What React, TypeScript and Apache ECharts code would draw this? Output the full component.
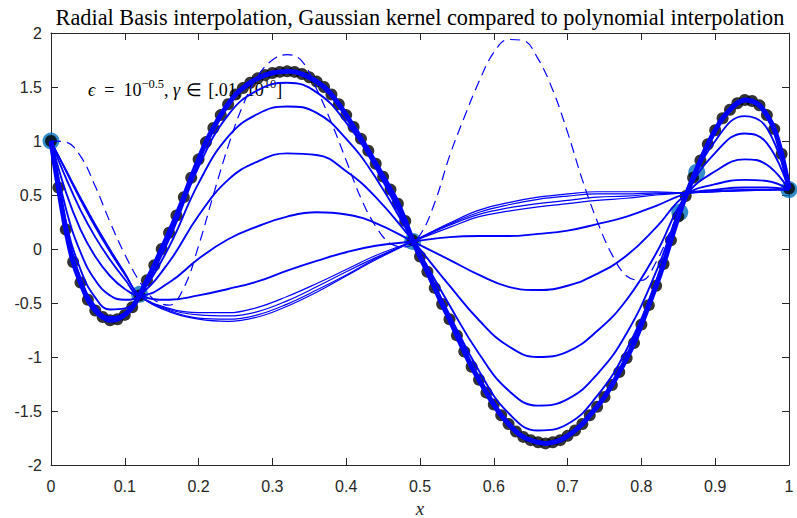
import React, { useEffect, useRef } from "react";
import * as echarts from "echarts";

// True function sampled at 101 points (black dots)
const trueX = Array.from({ length: 101 }, (_, i) => i / 100);
const trueY = [
  1.0, 0.57, 0.18, -0.12, -0.31, -0.47, -0.57, -0.63, -0.66, -0.65,
  -0.61, -0.54, -0.43, -0.29, -0.15, 0.0, 0.15, 0.31, 0.48, 0.66,
  0.83, 0.99, 1.12, 1.24, 1.34, 1.43, 1.49, 1.54, 1.58, 1.61,
  1.63, 1.64, 1.645, 1.64, 1.62, 1.59, 1.55, 1.5, 1.43, 1.34,
  1.24, 1.13, 1.02, 0.91, 0.79, 0.67, 0.55, 0.42, 0.26, 0.08,
  -0.07, -0.21, -0.36, -0.51, -0.65, -0.8, -0.95, -1.09, -1.21, -1.33,
  -1.44, -1.54, -1.62, -1.69, -1.74, -1.77, -1.79, -1.8, -1.79, -1.77,
  -1.73, -1.68, -1.62, -1.54, -1.46, -1.37, -1.26, -1.14, -1.01, -0.87,
  -0.7, -0.52, -0.34, -0.14, 0.08, 0.3, 0.49, 0.66, 0.82, 0.97,
  1.1, 1.21, 1.29, 1.35, 1.38, 1.37, 1.33, 1.24, 1.11, 0.88,
  0.56,
];

// Interpolation nodes
const nodeX = [0, 0.12, 0.49, 0.852, 0.875, 1];
const nodeY = [1.0, -0.42, 0.07, 0.34, 0.71, 0.55];

// RBF curves for different gamma, sampled on a common grid
const gridX = [
  0, 0.02, 0.04, 0.06, 0.08, 0.1, 0.12, 0.16, 0.2, 0.24, 0.28, 0.32, 0.36, 0.4,
  0.44, 0.49, 0.54, 0.58, 0.62, 0.66, 0.7, 0.74, 0.78, 0.82, 0.86, 0.9, 0.94,
  0.97, 1,
];
const curve1 = [1.0, 0.21, -0.27, -0.53, -0.63, -0.59, -0.43, 0.09, 0.76, 1.24, 1.47, 1.54, 1.45, 1.17, 0.75, 0.08, -0.61, -1.13, -1.52, -1.68, -1.62, -1.36, -0.93, -0.3, 0.48, 1.0, 1.23, 1.12, 0.56];
const curve2 = [1.0, 0.26, -0.19, -0.45, -0.56, -0.55, -0.43, 0.02, 0.61, 1.04, 1.25, 1.32, 1.26, 1.02, 0.66, 0.08, -0.52, -0.97, -1.31, -1.45, -1.39, -1.16, -0.78, -0.21, 0.49, 0.89, 1.07, 0.98, 0.55];
const curve3 = [1.0, 0.38, -0.03, -0.29, -0.43, -0.47, -0.43, -0.12, 0.31, 0.64, 0.81, 0.885, 0.87, 0.72, 0.48, 0.08, -0.34, -0.66, -0.9, -1.0, -0.95, -0.76, -0.47, -0.04, 0.49, 0.72, 0.83, 0.78, 0.55];
const curve4 = [1.0, 0.53, 0.18, -0.07, -0.25, -0.37, -0.43, -0.31, -0.09, 0.09, 0.21, 0.3, 0.34, 0.32, 0.24, 0.07, -0.1, -0.24, -0.35, -0.38, -0.34, -0.23, -0.06, 0.2, 0.5, 0.6, 0.64, 0.63, 0.55];
const curve5 = [1.0, 0.66, 0.36, 0.11, -0.1, -0.28, -0.43, -0.47, -0.43, -0.37, -0.3, -0.2, -0.11, -0.03, 0.03, 0.07, 0.11, 0.12, 0.12, 0.14, 0.17, 0.23, 0.3, 0.4, 0.51, 0.55, 0.57, 0.57, 0.55];
const flat1 = [1.0, 0.72, 0.45, 0.2, -0.03, -0.24, -0.43, -0.55, -0.59, -0.59, -0.54, -0.44, -0.32, -0.19, -0.06, 0.07, 0.2, 0.3, 0.35, 0.39, 0.42, 0.45, 0.47, 0.5, 0.52, 0.54, 0.55, 0.55, 0.55];
const flat2 = [1.0, 0.73, 0.46, 0.21, -0.02, -0.23, -0.43, -0.56, -0.61, -0.62, -0.58, -0.48, -0.35, -0.21, -0.08, 0.07, 0.22, 0.32, 0.38, 0.42, 0.45, 0.48, 0.49, 0.51, 0.52, 0.53, 0.545, 0.55, 0.55];
const flat3 = [1.0, 0.73, 0.47, 0.22, -0.01, -0.22, -0.43, -0.57, -0.64, -0.65, -0.61, -0.51, -0.38, -0.24, -0.09, 0.07, 0.23, 0.34, 0.41, 0.46, 0.49, 0.51, 0.51, 0.52, 0.52, 0.53, 0.54, 0.545, 0.55];
const flat4 = [1.0, 0.74, 0.48, 0.23, 0.0, -0.22, -0.43, -0.58, -0.65, -0.67, -0.63, -0.53, -0.4, -0.25, -0.1, 0.07, 0.24, 0.36, 0.43, 0.48, 0.51, 0.53, 0.53, 0.53, 0.52, 0.53, 0.54, 0.545, 0.55];

// Polynomial interpolant (dashed)
const polyX = Array.from({ length: 51 }, (_, i) => i / 50);
const polyY = [
  1.0, 0.99, 0.86, 0.58, 0.25, -0.05, -0.3, -0.47, -0.52, -0.36,
  0.03, 0.5, 0.95, 1.33, 1.6, 1.75, 1.8, 1.74, 1.48, 1.17,
  0.82, 0.47, 0.21, 0.05, 0.02, 0.13, 0.43, 0.86, 1.22, 1.55,
  1.82, 1.94, 1.93, 1.76, 1.47, 1.08, 0.64, 0.26, -0.05, -0.25,
  -0.29, -0.12, 0.18, 0.5, 0.82, 1.1, 1.29, 1.38, 1.33, 1.11,
  0.56,
];

const titleText = "Radial Basis interpolation, Gaussian kernel compared to polynomial interpolation";
const xName = "x";

const pair = (xs: number[], ys: number[]) => xs.map((x, i) => [x, ys[i]]);
const fmt = (v: number) => String(Number(v.toFixed(1)));

const AXIS = "#262626";
const BLUE = "#0000ff";
const SERIF = "Liberation Serif";

export default function App() {
  const ref = useRef<HTMLDivElement>(null);
  useEffect(() => {
    if (!ref.current) return;
    const chart = echarts.init(ref.current, null, { renderer: "svg" });
    const thin = [curve1, curve2, curve3, curve4, curve5];
    const flats = [flat1, flat2, flat3, flat4];
    const baseAxis = {
      type: "value" as const,
      axisLine: { show: true, onZero: false, lineStyle: { color: AXIS, width: 1 } },
      axisTick: { show: true, inside: true, length: 7, lineStyle: { color: AXIS, width: 1 } },
      splitLine: { show: false },
    };
    const txt = { fontFamily: SERIF, fontSize: 18, fill: "#000", color: "#000", lineHeight: 22, verticalAlign: "bottom" };
    const option: any = {
      animation: false,
      grid: { left: 51, right: 8, top: 33, bottom: 53, containLabel: false, outerBoundsMode: "none" },
      xAxis: [
        {
          ...baseAxis,
          position: "bottom",
          min: 0,
          max: 1,
          interval: 0.1,
          axisLabel: { color: AXIS, fontSize: 16, fontFamily: "Liberation Sans", margin: 13, formatter: fmt },
          name: xName,
          nameLocation: "middle",
          nameGap: 33,
          nameTextStyle: { color: AXIS, fontSize: 19, fontStyle: "italic", fontFamily: SERIF },
        },
        { ...baseAxis, position: "top", min: 0, max: 1, interval: 0.1, axisLabel: { show: false } },
      ],
      yAxis: [
        {
          ...baseAxis,
          position: "left",
          min: -2,
          max: 2,
          interval: 0.5,
          axisLabel: { color: AXIS, fontSize: 16, fontFamily: "Liberation Sans", margin: 9, formatter: fmt },
        },
        { ...baseAxis, position: "right", min: -2, max: 2, interval: 0.5, axisLabel: { show: false } },
      ],
      graphic: [
        {
          type: "text",
          x: 420,
          y: 17,
          z: 1,
          style: {
            text: titleText,
            fontFamily: SERIF,
            fontSize: 22.3,
            fill: "#000",
            align: "center",
            verticalAlign: "middle",
          },
        },
        {
          type: "text",
          x: 88,
          y: 88,
          z: 0,
          style: {
            text: "{i|ϵ}{a|\u2002=\u200210}{s|−0.5}{a|, }{i|γ}{a|\u2004∈\u2004[.01, 10}{s|10}{a|]}",
            align: "left",
            verticalAlign: "middle",
            rich: {
              a: txt,
              i: { ...txt, fontStyle: "italic" },
              s: { fontFamily: SERIF, fontSize: 12.5, fill: "#000", color: "#000", lineHeight: 12, verticalAlign: "top" },
            },
          },
        },
      ],
      series: [
        {
          type: "scatter",
          data: pair(nodeX, nodeY),
          symbol: "circle",
          symbolSize: 17,
          itemStyle: { color: "#0072BD" },
          z: 2,
          silent: true,
        },
        {
          type: "scatter",
          data: pair(trueX, trueY),
          symbol: "circle",
          symbolSize: 12,
          itemStyle: { color: "#000" },
          z: 3,
          silent: true,
        },
        ...flats.map((ys) => ({
          type: "line",
          data: pair(gridX, ys),
          showSymbol: false,
          symbol: "none",
          smooth: 0.4,
          lineStyle: { color: BLUE, width: 1.2 },
          z: 4,
          silent: true,
        })),
        ...thin.map((ys) => ({
          type: "line",
          data: pair(gridX, ys),
          showSymbol: false,
          symbol: "none",
          smooth: 0.45,
          lineStyle: { color: BLUE, width: 1.9 },
          z: 4,
          silent: true,
        })),
        {
          type: "line",
          data: pair(polyX, polyY),
          showSymbol: false,
          symbol: "none",
          smooth: 0.4,
          lineStyle: { color: BLUE, width: 1.2, type: [10, 6] },
          z: 4,
          silent: true,
        },
        {
          type: "line",
          data: pair(trueX, trueY),
          showSymbol: false,
          symbol: "none",
          smooth: 0.3,
          lineStyle: { color: BLUE, width: 5 },
          z: 5,
          silent: true,
        },
      ],
    };
    chart.setOption(option);
    return () => chart.dispose();
  }, []);
  return (
    <div
      ref={ref}
      style={{ position: "absolute", left: 0, top: 0, width: 797, height: 518, background: "#fff" }}
    />
  );
}
